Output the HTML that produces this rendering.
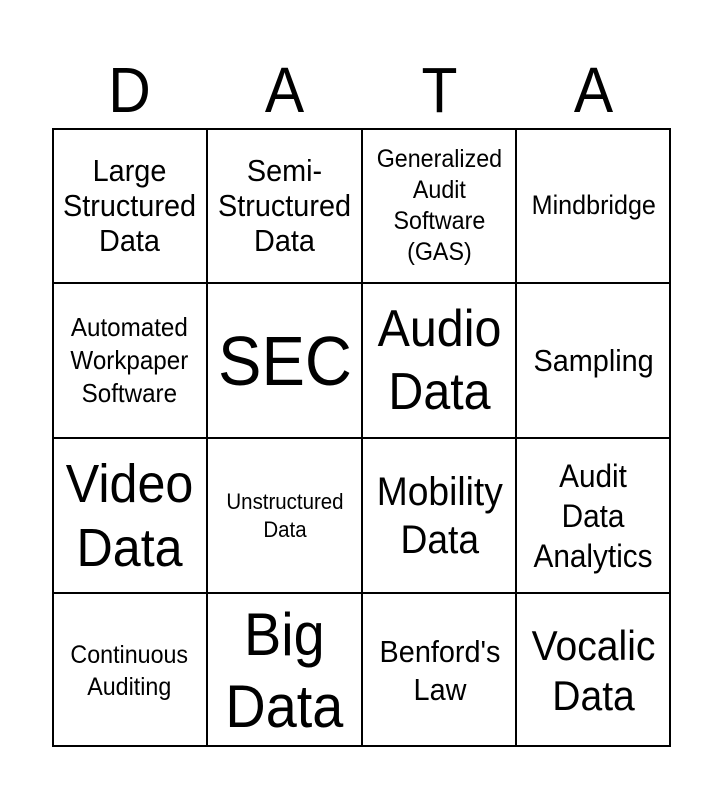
<!DOCTYPE html>
<html><head><style>
body{margin:0;width:723px;height:800px;background:#fff;font-family:"Liberation Sans",Arial,sans-serif;position:relative;overflow:hidden}
.h{position:absolute;top:52px;width:155px;text-align:center;font-size:64px;line-height:76px;transform:scaleX(0.92)}
.c{position:absolute;width:155px;height:155px;display:flex;align-items:center;justify-content:center;text-align:center;box-sizing:border-box}
.c span{display:inline-block;transform:scaleX(0.93);white-space:nowrap}
.grid{position:absolute;left:52px;top:128px;width:619px;height:619px;border:2px solid #000;box-sizing:border-box}
.v,.hz{position:absolute;background:#000}
.v{width:2px;top:128px;height:619px}
.hz{height:2px;left:52px;width:619px}
</style></head><body>
<div class="h" style="left:52px">D</div>
<div class="h" style="left:207px">A</div>
<div class="h" style="left:362px">T</div>
<div class="h" style="left:516px">A</div>
<div class="grid"></div>
<div class="v" style="left:206px"></div><div class="v" style="left:361px"></div><div class="v" style="left:515px"></div>
<div class="hz" style="top:282px"></div><div class="hz" style="top:437px"></div><div class="hz" style="top:592px"></div>

<div class="c" style="left:52px;top:128px;font-size:31px;line-height:35px"><span>Large<br>Structured<br>Data</span></div>
<div class="c" style="left:207px;top:128px;font-size:31px;line-height:35px"><span>Semi-<br>Structured<br>Data</span></div>
<div class="c" style="left:362px;top:128px;font-size:25px;line-height:31px"><span>Generalized<br>Audit<br>Software<br>(GAS)</span></div>
<div class="c" style="left:516px;top:128px;font-size:27px"><span>Mindbridge</span></div>

<div class="c" style="left:52px;top:283px;font-size:26px;line-height:33px"><span>Automated<br>Workpaper<br>Software</span></div>
<div class="c" style="left:207px;top:283px;font-size:70px"><span>SEC</span></div>
<div class="c" style="left:362px;top:283px;font-size:52px;line-height:63px"><span>Audio<br>Data</span></div>
<div class="c" style="left:516px;top:283px;font-size:31px"><span>Sampling</span></div>

<div class="c" style="left:52px;top:438px;font-size:54px;line-height:64px"><span>Video<br>Data</span></div>
<div class="c" style="left:207px;top:438px;font-size:22px;line-height:28px"><span>Unstructured<br>Data</span></div>
<div class="c" style="left:362px;top:438px;font-size:40px;line-height:48px"><span>Mobility<br>Data</span></div>
<div class="c" style="left:516px;top:438px;font-size:32px;line-height:40px"><span>Audit<br>Data<br>Analytics</span></div>

<div class="c" style="left:52px;top:593px;font-size:25px;line-height:32px"><span>Continuous<br>Auditing</span></div>
<div class="c" style="left:207px;top:593px;font-size:60px;line-height:72px"><span>Big<br>Data</span></div>
<div class="c" style="left:362px;top:593px;font-size:31px;line-height:38px"><span>Benford's<br>Law</span></div>
<div class="c" style="left:516px;top:593px;font-size:42px;line-height:50px"><span>Vocalic<br>Data</span></div>
</body></html>
